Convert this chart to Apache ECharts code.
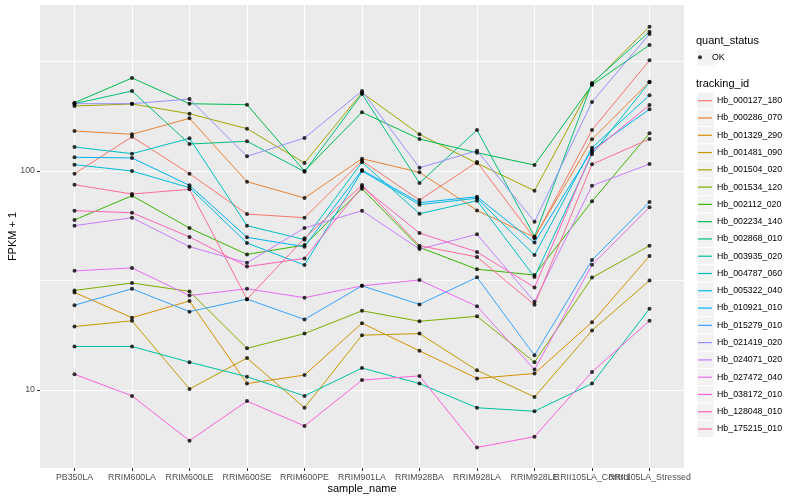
<!DOCTYPE html>
<html><head><meta charset="utf-8">
<script src="https://cdn.jsdelivr.net/npm/echarts@6/dist/echarts.min.js"></script>
<style>html,body{margin:0;padding:0;background:#fff}#c{width:800px;height:500px}</style>
</head><body><div id="c"></div>
<script>
const categories = ['PB350LA','RRIM600LA','RRIM600LE','RRIM600SE','RRIM600PE','RRIM901LA','RRIM928BA','RRIM928LA','RRIM928LE','RRII105LA_Control','RRII105LA_Stressed'];
const yTickValues = [10, 100];
const yMinorValues = [31.62, 316.2];

const Hb_000127_180 = [97.2, 143.4, 97.2, 63.6, 61.2, 111.4, 73.7, 109.9, 49.3, 153.9, 320.2];
const Hb_000286_070 = [152.3, 147.1, 174.0, 89.4, 75.3, 113.8, 98.6, 66.1, 49.8, 139.5, 255.7];
const Hb_001329_290 = [27.9, 21.4, 25.5, 10.7, 11.7, 20.2, 15.1, 11.3, 11.9, 20.4, 40.9];
const Hb_001481_090 = [19.5, 20.7, 10.1, 14.0, 8.3, 17.8, 18.1, 12.3, 9.3, 18.7, 31.6];
const Hb_001504_020 = [198.1, 202.3, 182.6, 156.1, 108.8, 227.8, 147.1, 108.4, 81.3, 249.6, 456.0];
const Hb_001534_120 = [28.5, 30.8, 28.2, 15.5, 18.1, 23.0, 20.6, 21.7, 13.4, 32.6, 45.6];
const Hb_002112_020 = [59.8, 77.1, 54.9, 41.6, 45.9, 83.0, 44.8, 35.6, 33.5, 72.7, 148.6];
const Hb_002234_140 = [205.0, 265.9, 202.9, 200.8, 100.0, 185.4, 140.0, 121.2, 106.5, 247.0, 376.1];
const Hb_002868_010 = [203.0, 231.9, 132.8, 136.7, 99.3, 224.7, 88.1, 153.9, 50.2, 252.2, 432.5];
const Hb_003935_020 = [15.8, 15.8, 13.4, 11.5, 9.4, 12.6, 10.7, 8.3, 8.0, 10.7, 23.5];
const Hb_004787_060 = [128.7, 120.0, 141.0, 56.3, 48.6, 109.6, 63.8, 73.2, 32.8, 119.2, 254.1];
const Hb_005322_040 = [106.9, 100.0, 83.9, 46.9, 37.2, 100.0, 70.2, 75.1, 41.3, 127.8, 221.6];
const Hb_010921_010 = [115.5, 114.7, 86.0, 49.8, 45.1, 101.1, 71.7, 76.3, 47.1, 124.7, 191.3];
const Hb_015279_010 = [24.4, 29.0, 22.8, 26.0, 21.0, 29.9, 24.6, 32.7, 14.4, 39.2, 72.2];
const Hb_021419_020 = [203.0, 203.0, 213.2, 116.7, 141.5, 231.9, 103.5, 123.8, 58.7, 206.6, 422.2];
const Hb_024071_020 = [56.3, 61.2, 45.1, 38.1, 54.9, 65.9, 44.0, 51.4, 25.3, 85.7, 107.6];
const Hb_027472_040 = [35.0, 36.1, 27.0, 29.0, 26.4, 29.9, 31.8, 24.1, 12.4, 37.3, 68.3];
const Hb_038172_010 = [11.8, 9.4, 5.87, 8.9, 6.85, 11.1, 11.6, 5.47, 6.12, 12.1, 20.7];
const Hb_128048_010 = [65.9, 64.5, 50.0, 36.6, 39.9, 84.8, 52.1, 42.7, 29.4, 122.1, 200.2];
const Hb_175215_010 = [86.6, 78.5, 82.5, 26.0, 49.3, 86.3, 45.6, 40.5, 24.5, 107.3, 140.0];

const trackingIds = ['Hb_000127_180','Hb_000286_070','Hb_001329_290','Hb_001481_090','Hb_001504_020','Hb_001534_120','Hb_002112_020','Hb_002234_140','Hb_002868_010','Hb_003935_020','Hb_004787_060','Hb_005322_040','Hb_010921_010','Hb_015279_010','Hb_021419_020','Hb_024071_020','Hb_027472_040','Hb_038172_010','Hb_128048_010','Hb_175215_010'];
const seriesValues = [Hb_000127_180,Hb_000286_070,Hb_001329_290,Hb_001481_090,Hb_001504_020,Hb_001534_120,Hb_002112_020,Hb_002234_140,Hb_002868_010,Hb_003935_020,Hb_004787_060,Hb_005322_040,Hb_010921_010,Hb_015279_010,Hb_021419_020,Hb_024071_020,Hb_027472_040,Hb_038172_010,Hb_128048_010,Hb_175215_010];
const colors = ['#F8766D','#EA8331','#D89000','#C09B00','#A3A500','#7CAE00','#39B600','#00BB4E','#00BF7D','#00C1A3','#00BFC4','#00BAE0','#00B0F6','#35A2FF','#9590FF','#C77CFF','#E76BF3','#FA62DB','#FF62BC','#FF6C91'];

const FONT = '"Liberation Sans", Arial, Helvetica, sans-serif';
// x tick groups (split so ECharts never drops overlapping end labels, as ggplot draws them all)
const idx = categories.map((c, i) => i);
const xGroups = [idx.slice(0, 9), [9], [10]];
const Y_MIN = 4.405, Y_MAX = 572.8;

const chart = echarts.init(document.getElementById('c'), null, {renderer: 'canvas'});

const series = [];
trackingIds.forEach((id, k) => {
  series.push({
    type: 'line', name: id, showSymbol: false, symbol: 'none', z: 2, yAxisIndex: 1,
    lineStyle: {color: colors[k], width: 1},
    itemStyle: {color: colors[k]},
    emphasis: {disabled: true},
    data: seriesValues[k].map((v, i) => [i, v])
  });
});
const pts = [];
seriesValues.forEach(arr => arr.forEach((v, i) => pts.push([i, v])));
series.push({
  type: 'scatter', name: 'OK', z: 5, symbol: 'circle', symbolSize: 4, yAxisIndex: 1,
  itemStyle: {color: '#000000'}, emphasis: {disabled: true},
  data: pts
});

const keyRects = [];
keyRects.push({type: 'rect', shape: {x: 697, y: 48.7, width: 17.3, height: 17.3}, style: {fill: '#F2F2F2', stroke: '#FFFFFF', lineWidth: 1}});
trackingIds.forEach((id, k) => {
  keyRects.push({type: 'rect', shape: {x: 697, y: 100.7 - 8.64 + k * 17.28, width: 17.3, height: 17.28}, style: {fill: '#F2F2F2', stroke: '#FFFFFF', lineWidth: 1}});
});

const xAxes = xGroups.map((g, n) => ({
  type: 'value', min: -0.6, max: 10.6, position: 'bottom', offset: 0,
  axisLine: {show: false, onZero: false},
  axisTick: {show: true, length: 3, lineStyle: {color: '#333333', width: 1}, customValues: g},
  axisLabel: {customValues: g, formatter: v => categories[Math.round(v)], color: '#4D4D4D', fontSize: 8.8, margin: 5, fontFamily: FONT, showMinLabel: true, showMaxLabel: true},
  splitLine: {show: true, lineStyle: {color: '#FFFFFF', width: 1.1}},
  name: n === 0 ? 'sample_name' : '', nameLocation: 'middle', nameGap: 15, nameMoveOverlap: false,
  nameTextStyle: {fontSize: 11, color: '#000000', fontFamily: FONT}
}));

chart.setOption({
  animation: false,
  backgroundColor: '#FFFFFF',
  textStyle: {fontFamily: FONT},
  grid: {left: 40, right: 116, top: 5, bottom: 32, show: true, backgroundColor: '#EBEBEB', borderWidth: 0, containLabel: false, outerBoundsMode: 'none'},
  xAxis: xAxes,
  yAxis: [
    {
      // minor gridlines only (ggplot minor breaks)
      type: 'log', logBase: 10, min: Y_MIN, max: Y_MAX, position: 'left',
      axisLine: {show: false, onZero: false},
      axisTick: {show: false, customValues: yMinorValues},
      axisLabel: {show: false, customValues: yMinorValues},
      splitLine: {show: true, lineStyle: {color: '#FFFFFF', width: 0.8}}
    },
    {
      type: 'log', logBase: 10, min: Y_MIN, max: Y_MAX, position: 'left',
      axisLine: {show: false, onZero: false},
      axisTick: {show: true, length: 3, lineStyle: {color: '#333333', width: 1}, customValues: yTickValues},
      axisLabel: {customValues: yTickValues, color: '#4D4D4D', fontSize: 8.8, margin: 5, fontFamily: FONT, showMinLabel: true, showMaxLabel: true},
      splitLine: {show: true, lineStyle: {color: '#FFFFFF', width: 1.1}},
      name: 'FPKM + 1', nameLocation: 'middle', nameGap: 22, nameMoveOverlap: false,
      nameTextStyle: {fontSize: 11, color: '#000000', fontFamily: FONT}
    }
  ],
  legend: [
    {
      data: [{name: 'OK', icon: 'circle'}], orient: 'vertical', left: 698, top: 52.3, padding: 0,
      itemWidth: 14, itemHeight: 4, itemGap: 0,
      textStyle: {fontSize: 8.8, color: '#000000', lineHeight: 10, fontFamily: FONT},
      selectedMode: false
    },
    {
      data: trackingIds, orient: 'vertical', left: 698, top: 95.7, padding: 0,
      icon: 'rect', itemWidth: 14, itemHeight: 1.2, itemGap: 7.28,
      textStyle: {fontSize: 8.8, color: '#000000', lineHeight: 10, fontFamily: FONT},
      selectedMode: false
    }
  ],
  graphic: [
    ...keyRects,
    {type: 'text', x: 696, y: 40.7, style: {text: 'quant_status', fill: '#000', font: '11px ' + FONT, textVerticalAlign: 'middle'}},
    {type: 'text', x: 696, y: 84, style: {text: 'tracking_id', fill: '#000', font: '11px ' + FONT, textVerticalAlign: 'middle'}}
  ],
  series: series
});
</script>
</body></html>
